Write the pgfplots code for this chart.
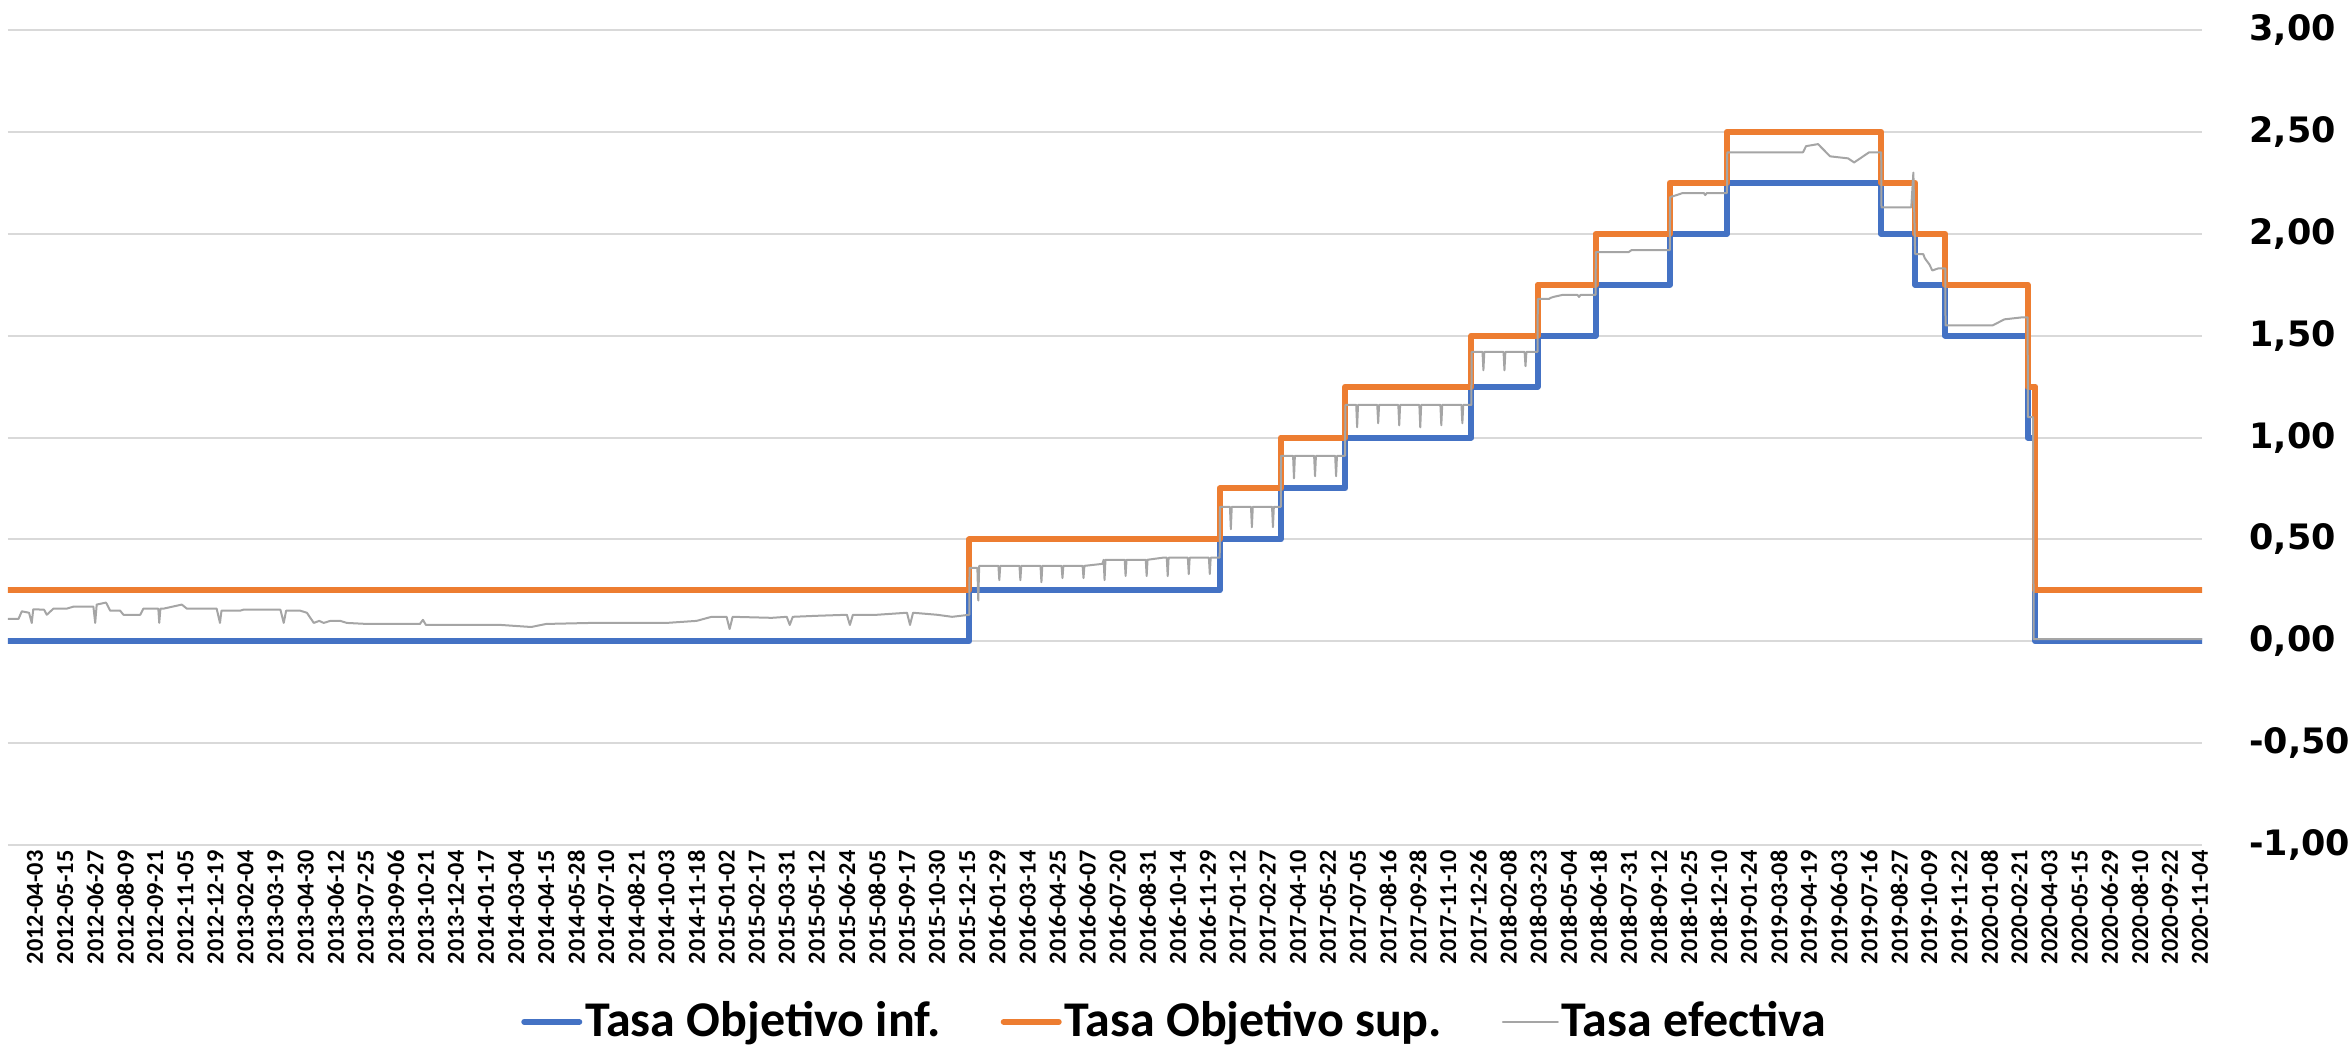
\documentclass[border=0pt]{standalone}
\usepackage{fontspec}
\setmainfont{Carlito}
\newfontfamily\dejavu{DejaVu Sans}
\usepackage{pgfplots}
\pgfplotsset{compat=1.18}

\definecolor{tinf}{HTML}{4472C4}
\definecolor{tsup}{HTML}{ED7D31}
\definecolor{tef}{HTML}{A5A5A5}
\definecolor{gridc}{HTML}{D9D9D9}

\begin{document}
\begin{tikzpicture}
\begin{axis}[
    at={(0,0)}, anchor=south west,
    scale only axis,
    width=658.2pt, height=244.5pt,
    xmin=-0.9, xmax=72.07,
    ymin=-1, ymax=3,
    ytick={-1,-0.5,0,0.5,1,1.5,2,2.5,3},
    ymajorgrids,
    major grid style={draw=gridc, line width=0.6pt},
    axis line style={draw=none},
    major tick length=0pt,
    yticklabel pos=right,
    /pgf/number format/.cd, fixed, fixed zerofill, precision=2, use comma, assume math mode=true,
    /pgfplots/.cd,
    yticklabel style={anchor=west, inner sep=0pt, xshift=14pt,
        font=\dejavu\bfseries\fontsize{10.5}{12}\selectfont},
    xtick={0,...,72},
    xticklabels={2012-04-03,2012-05-15,2012-06-27,2012-08-09,2012-09-21,2012-11-05,2012-12-19,
        2013-02-04,2013-03-19,2013-04-30,2013-06-12,2013-07-25,2013-09-06,2013-10-21,2013-12-04,
        2014-01-17,2014-03-04,2014-04-15,2014-05-28,2014-07-10,2014-08-21,2014-10-03,2014-11-18,
        2015-01-02,2015-02-17,2015-03-31,2015-05-12,2015-06-24,2015-08-05,2015-09-17,2015-10-30,
        2015-12-15,2016-01-29,2016-03-14,2016-04-25,2016-06-07,2016-07-20,2016-08-31,2016-10-14,
        2016-11-29,2017-01-12,2017-02-27,2017-04-10,2017-05-22,2017-07-05,2017-08-16,2017-09-28,
        2017-11-10,2017-12-26,2018-02-08,2018-03-23,2018-05-04,2018-06-18,2018-07-31,2018-09-12,
        2018-10-25,2018-12-10,2019-01-24,2019-03-08,2019-04-19,2019-06-03,2019-07-16,2019-08-27,
        2019-10-09,2019-11-22,2020-01-08,2020-02-21,2020-04-03,2020-05-15,2020-06-29,2020-08-10,
        2020-09-22,2020-11-04},
    xticklabel style={rotate=90, anchor=east, inner sep=0pt, xshift=-1.5pt,
        font=\bfseries\fontsize{7.3}{8}\selectfont},
    legend style={at={(axis description cs:0.532,-0.217)}, anchor=center,
        draw=none, legend columns=-1,
        font=\bfseries\fontsize{15}{17}\selectfont,
        nodes={inner sep=0.9pt},
        /tikz/every even column/.append style={column sep=17pt}},
    legend image code/.code={\draw[#1] (0pt,0pt) -- (16.5pt,0pt);},
    every axis plot/.append style={line join=round, line cap=round},
]
% Tasa Objetivo inf.
\addplot[tinf, line width=1.8pt] coordinates {
(-0.9,0) (31.07,0) (31.07,0.25) (39.4,0.25) (39.4,0.5) (41.43,0.5) (41.43,0.75)
(43.57,0.75) (43.57,1) (47.77,1) (47.77,1.25) (49.97,1.25) (49.97,1.5) (51.9,1.5)
(51.9,1.75) (54.37,1.75) (54.37,2) (56.27,2) (56.27,2.25) (61.4,2.25) (61.4,2)
(62.53,2) (62.53,1.75) (63.53,1.75) (63.53,1.5) (66.27,1.5) (66.27,1) (66.53,1)
(66.53,0) (72.07,0)
};
% Tasa Objetivo sup.
\addplot[tsup, line width=1.8pt] coordinates {
(-0.9,0.25) (31.07,0.25) (31.07,0.5) (39.4,0.5) (39.4,0.75) (41.43,0.75) (41.43,1)
(43.57,1) (43.57,1.25) (47.77,1.25) (47.77,1.5) (49.97,1.5) (49.97,1.75) (51.9,1.75)
(51.9,2) (54.37,2) (54.37,2.25) (56.27,2.25) (56.27,2.5) (61.4,2.5) (61.4,2.25)
(62.53,2.25) (62.53,2) (63.53,2) (63.53,1.75) (66.27,1.75) (66.27,1.25) (66.53,1.25)
(66.53,0.25) (72.07,0.25)
};
% Tasa efectiva
\addplot[tef, line width=0.6pt] coordinates {
(-0.9,0.11) (-0.55,0.11) (-0.44,0.147) (-0.2,0.14) (-0.11,0.09) (-0.06,0.157) (0.3,0.155)
(0.39,0.13) (0.61,0.16) (1.05,0.16) (1.28,0.17) (1.94,0.17) (2.0,0.09) (2.05,0.18)
(2.36,0.19) (2.5,0.15) (2.83,0.15) (2.94,0.13) (3.5,0.13) (3.6,0.16) (4.1,0.16)
(4.13,0.09) (4.17,0.16) (4.27,0.16) (4.88,0.18) (5.05,0.16) (6.04,0.16) (6.15,0.09)
(6.2,0.15) (6.82,0.15) (6.93,0.155) (8.16,0.155) (8.27,0.09) (8.35,0.15) (8.82,0.15)
(9.04,0.14) (9.27,0.09) (9.45,0.10) (9.6,0.09) (9.82,0.10) (10.15,0.10) (10.37,0.09)
(11.04,0.085) (12.8,0.085) (12.9,0.105) (13.0,0.08) (15.5,0.08)
(16.5,0.07) (17.0,0.085) (18.5,0.09) (19.0,0.09) (20.5,0.09) (21.0,0.09) (22.0,0.10)
(22.5,0.12) (23.0,0.12) (23.1,0.06) (23.2,0.12) (24.5,0.115) (25.0,0.12) (25.1,0.08)
(25.2,0.12) (26.0,0.125) (27.0,0.13) (27.1,0.08) (27.2,0.13) (28.0,0.13) (29.0,0.14)
(29.1,0.08) (29.2,0.14) (30.0,0.13) (30.5,0.12) (31.07,0.13)
(31.08,0.36) (31.34,0.36) (31.37,0.20) (31.40,0.37)
(32.04,0.37) (32.07,0.30) (32.10,0.37) (32.74,0.37) (32.77,0.30) (32.80,0.37)
(33.44,0.37) (33.47,0.29) (33.50,0.37) (34.14,0.37) (34.17,0.31) (34.20,0.37)
(34.84,0.37) (34.87,0.31) (34.90,0.37) (35.50,0.38) (35.54,0.40) (35.57,0.30) (35.60,0.40)
(36.24,0.40) (36.27,0.32) (36.30,0.40) (36.94,0.40) (36.97,0.32) (37.00,0.40)
(37.50,0.41) (37.64,0.41) (37.67,0.32) (37.70,0.41) (38.34,0.41) (38.37,0.33) (38.40,0.41)
(39.04,0.41) (39.07,0.33) (39.10,0.41) (39.4,0.41)
(39.41,0.66) (39.74,0.66) (39.77,0.55) (39.80,0.66) (40.44,0.66) (40.47,0.56) (40.50,0.66)
(41.14,0.66) (41.17,0.56) (41.20,0.66) (41.43,0.66)
(41.44,0.91) (41.84,0.91) (41.87,0.80) (41.90,0.91) (42.54,0.91) (42.57,0.81) (42.60,0.91)
(43.24,0.91) (43.27,0.81) (43.30,0.91) (43.57,0.91)
(43.58,1.16) (43.94,1.16) (43.97,1.05) (44.00,1.16) (44.64,1.16) (44.67,1.07) (44.70,1.16)
(45.34,1.16) (45.37,1.06) (45.40,1.16) (46.04,1.16) (46.07,1.05) (46.10,1.16)
(46.74,1.16) (46.77,1.06) (46.80,1.16) (47.44,1.16) (47.47,1.07) (47.50,1.16) (47.77,1.16)
(47.78,1.42) (48.14,1.42) (48.17,1.33) (48.20,1.42) (48.84,1.42) (48.87,1.33) (48.90,1.42)
(49.54,1.42) (49.57,1.35) (49.60,1.42) (49.97,1.42)
(49.98,1.68) (50.35,1.68) (50.4,1.685) (50.5,1.69) (50.8,1.70) (51.3,1.70) (51.35,1.69)
(51.4,1.70) (51.9,1.70)
(51.91,1.91) (53.0,1.91) (53.1,1.92) (54.37,1.92)
(54.38,2.18) (54.6,2.19) (54.8,2.20) (55.5,2.20) (55.55,2.19) (55.6,2.20) (56.27,2.20)
(56.28,2.40) (58.8,2.40) (58.9,2.43) (59.3,2.44) (59.5,2.41) (59.7,2.38) (60.3,2.37)
(60.5,2.35) (60.8,2.38) (61.0,2.40) (61.4,2.40)
(61.41,2.13) (62.4,2.13) (62.47,2.30) (62.53,1.90)
(62.8,1.90) (62.85,1.88) (63.0,1.85) (63.1,1.82) (63.3,1.83) (63.53,1.83)
(63.54,1.55) (65.0,1.55) (65.1,1.55) (65.5,1.58) (66.1,1.59) (66.27,1.59)
(66.28,1.10) (66.45,1.10) (66.47,0.01) (72.07,0.01)
};
\legend{Tasa Objetivo inf., Tasa Objetivo sup., Tasa efectiva}
\end{axis}
\pgfresetboundingbox
\path[use as bounding box] (-2.4pt,-60pt) rectangle (702.9pt,253.5pt);
\end{tikzpicture}
\end{document}
